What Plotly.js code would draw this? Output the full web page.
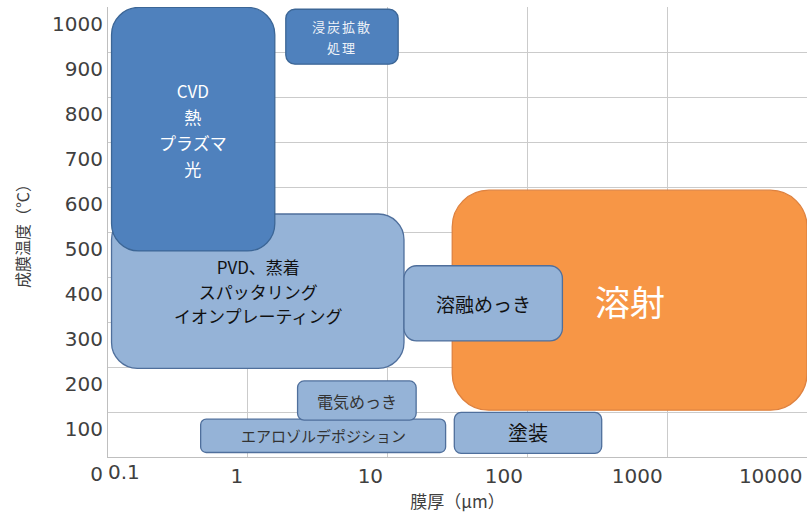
<!DOCTYPE html>
<html>
<head>
<meta charset="utf-8">
<script src="https://cdn.plot.ly/plotly-3.0.1.min.js"></script>
<style>html,body{margin:0;padding:0;background:#fff;}</style>
</head>
<body>
<div id="chart" style="width:807px;height:517px;"></div>
<script>
// ---- data ----
const processNames = [
  "溶射",
  "PVD、蒸着<br>スパッタリング<br>イオンプレーティング",
  "CVD<br>熱<br>プラズマ<br>光",
  "浸炭拡散<br>処理",
  "溶融めっき",
  "エアロゾルデポジション",
  "電気めっき",
  "塗装"
];
const thicknessMin = [29, 0.106, 0.106, 1.87, 13.1, 0.46, 2.27, 30];     // µm
const thicknessMax = [10000, 13.1, 1.56, 11.9, 178, 26, 16, 340];        // µm
const tempMin = [104, 197, 458, 873, 258, 10, 82, 8];                    // °C
const tempMax = [593, 540, 999, 995, 425, 84, 169, 99];                  // °C

const xTickValues = [1, 10, 100, 1000, 10000];
const xTickLabels = ["1", "10", "100", "1000", "10000"];
const xFirstTickValue = [0.1];
const xFirstTickLabel = ["0.1"];
const yTickValues = [0, 100, 200, 300, 400, 500, 600, 700, 800, 900, 1000];
const yTickLabels = ["0", "100", "200", "300", "400", "500", "600", "700", "800", "900", "1000"];

// ---- styles ----
const DARK = {fill: "#4F81BD", line: "#3C6696"};
const LIGHT = {fill: "#95B3D7", line: "#4F6F9C"};
const ORANGE = {fill: "#F79646", line: "#DE8240"};
const boxStyle = [ORANGE, LIGHT, DARK, DARK, LIGHT, LIGHT, LIGHT, LIGHT];
const textColor = ["#ffffff", "#111111", "#ffffff", "#EEF2F8", "#111111", "#333333", "#333333", "#111111"];
const glyphSize = [35, 17, 17, 13, 19, 15, 16, 20];
const lineSize = [35, 19, 20, 16, 19, 15, 16, 20];
const letterGap = [0, 0, 0, 2, 0, 0, 0, 0];

const W = 807, H = 517;
const margin = {l: 108, r: 0, t: 7, b: 60, pad: 0};
const xRange = [-1, 4];
const yRange = [0, 1000];
const plotW = W - margin.l - margin.r;
const plotH = H - margin.t - margin.b;
const pxPerDecade = plotW / (xRange[1] - xRange[0]);
const pxPerUnit = plotH / (yRange[1] - yRange[0]);
const CJK = "'Noto Sans CJK JP', 'Noto Sans', sans-serif";
const K = 0.5523;

function xs(x, dpx) { return x * Math.pow(10, dpx / pxPerDecade); }
function ys(y, dpx) { return y + dpx / pxPerUnit; }
function roundedPath(x0, x1, y0, y1) {
  const wPx = (Math.log10(x1) - Math.log10(x0)) * pxPerDecade;
  const hPx = (y1 - y0) * pxPerUnit;
  const r = 0.1667 * Math.min(wPx, hPx);
  const c = r * (1 - K);
  const P = (x, y) => x + "," + y;
  return "M" + P(xs(x0, r), y1) +
    " L" + P(xs(x1, -r), y1) +
    " C" + P(xs(x1, -c), y1) + " " + P(x1, ys(y1, -c)) + " " + P(x1, ys(y1, -r)) +
    " L" + P(x1, ys(y0, r)) +
    " C" + P(x1, ys(y0, c)) + " " + P(xs(x1, -c), y0) + " " + P(xs(x1, -r), y0) +
    " L" + P(xs(x0, r), y0) +
    " C" + P(xs(x0, c), y0) + " " + P(x0, ys(y0, c)) + " " + P(x0, ys(y0, r)) +
    " L" + P(x0, ys(y1, -r)) +
    " C" + P(x0, ys(y1, -c)) + " " + P(xs(x0, c), y1) + " " + P(xs(x0, r), y1) +
    " Z";
}

const shapes = processNames.map((n, i) => ({
  type: "path", xref: "x", yref: "y", layer: "above",
  path: roundedPath(thicknessMin[i], thicknessMax[i], tempMin[i], tempMax[i]),
  fillcolor: boxStyle[i].fill,
  line: {color: boxStyle[i].line, width: 1.3}
}));

function styleLine(s, i) {
  const gap = letterGap[i] ? ';letter-spacing:' + letterGap[i] + 'px' : '';
  return '<span style="font-size:' + glyphSize[i] + 'px' + gap + '">' + s + '</span>';
}

const annotations = processNames.map((n, i) => ({
  xref: "x", yref: "y", showarrow: false,
  x: (Math.log10(thicknessMin[i]) + Math.log10(thicknessMax[i])) / 2,
  y: (tempMin[i] + tempMax[i]) / 2,
  text: n.split("<br>").map(s => styleLine(s, i)).join("<br>"),
  font: {family: CJK, size: lineSize[i], color: textColor[i]},
  xanchor: "center", yanchor: "middle", align: "center"
}));

const gridColor = "#CBCBCB";
const tickFont = {family: "'DejaVu Sans', Verdana, sans-serif", size: 20, color: "#404040"};

const traces = [
  {type: "scatter", x: [], y: [], xaxis: "x", yaxis: "y", showlegend: false, hoverinfo: "skip"},
  {type: "scatter", x: [], y: [], xaxis: "x2", yaxis: "y", showlegend: false, hoverinfo: "skip"}
];

const layout = {
  width: W, height: H, margin: margin,
  paper_bgcolor: "#ffffff", plot_bgcolor: "#ffffff",
  showlegend: false,
  xaxis: {
    type: "log", range: xRange, domain: [0, 1],
    tickmode: "array", tickvals: xTickValues, ticktext: xTickLabels,
    ticklabelposition: "outside left", ticklabelshift: -4, ticklabelstandoff: 1,
    ticks: "", showgrid: true, gridcolor: gridColor, gridwidth: 1,
    showline: true, linecolor: "#BFBFBF", linewidth: 1, zeroline: false,
    tickfont: tickFont,
    title: {text: "膜厚（μm）", font: {family: CJK, size: 17, color: "#404040"}, standoff: 0}
  },
  xaxis2: {
    type: "log", range: xRange, overlaying: "x", anchor: "y", side: "bottom",
    tickmode: "array", tickvals: xFirstTickValue, ticktext: xFirstTickLabel,
    ticklabelposition: "outside right", ticklabelstandoff: 1,
    ticks: "", showgrid: false, showline: false, zeroline: false,
    tickfont: tickFont
  },
  yaxis: {
    range: yRange, domain: [0, 1],
    tickmode: "array", tickvals: yTickValues, ticktext: yTickLabels,
    ticklabelshift: 17,
    ticks: "", showgrid: true, gridcolor: gridColor, gridwidth: 1,
    showline: true, linecolor: "#BFBFBF", linewidth: 1, zeroline: false,
    tickfont: tickFont,
    title: {text: "成膜温度（℃）", font: {family: CJK, size: 16, color: "#404040"}, standoff: 18}
  },
  shapes: shapes,
  annotations: annotations
};

Plotly.newPlot("chart", traces, layout, {displayModeBar: false, staticPlot: true});
</script>
</body>
</html>
